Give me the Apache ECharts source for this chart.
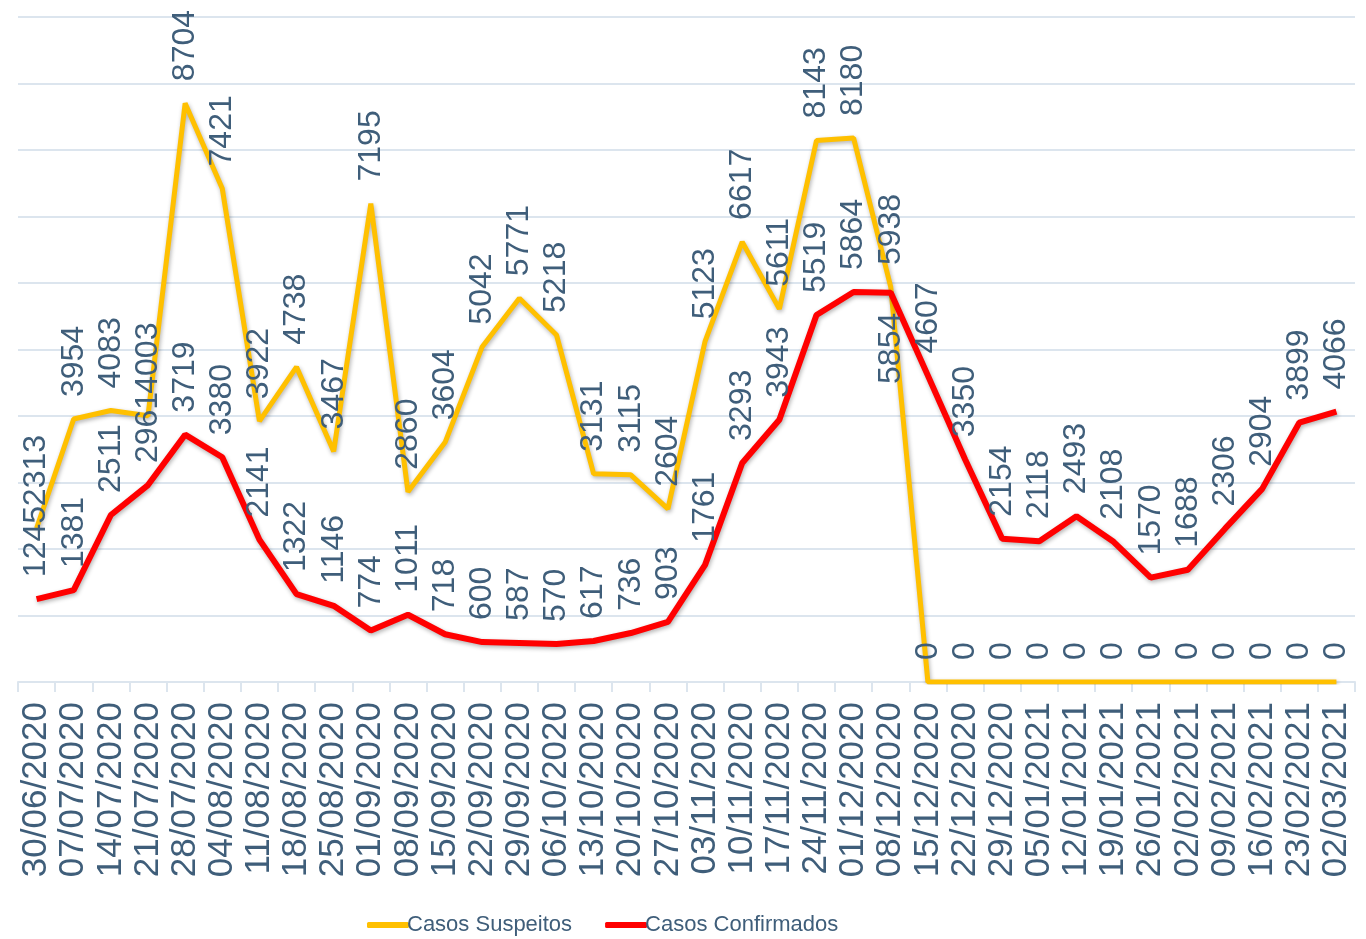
<!DOCTYPE html>
<html>
<head>
<meta charset="utf-8">
<script src="https://cdn.jsdelivr.net/npm/echarts@6/dist/echarts.min.js"></script>
<style>html,body{margin:0;padding:0;background:#fff}#c{width:1366px;height:939px}</style>
</head>
<body>
<div id="c"></div>
<script>
const categories = ['30/06/2020','07/07/2020','14/07/2020','21/07/2020','28/07/2020','04/08/2020','11/08/2020','18/08/2020','25/08/2020','01/09/2020','08/09/2020','15/09/2020','22/09/2020','29/09/2020','06/10/2020','13/10/2020','20/10/2020','27/10/2020','03/11/2020','10/11/2020','17/11/2020','24/11/2020','01/12/2020','08/12/2020','15/12/2020','22/12/2020','29/12/2020','05/01/2021','12/01/2021','19/01/2021','26/01/2021','02/02/2021','09/02/2021','16/02/2021','23/02/2021','02/03/2021'];
const suspeitos = [2313,3954,4083,4003,8704,7421,3922,4738,3467,7195,2860,3604,5042,5771,5218,3131,3115,2604,5123,6617,5611,8143,8180,5938,0,0,0,0,0,0,0,0,0,0,0,0];
const confirmados = [1245,1381,2511,2961,3719,3380,2141,1322,1146,774,1011,718,600,587,570,617,736,903,1761,3293,3943,5519,5864,5854,4607,3350,2154,2118,2493,2108,1570,1688,2306,2904,3899,4066];
const seriesNames = ['Casos Suspeitos','Casos Confirmados'];

const textColor = '#3F5E7A';
const gridColor = '#DCE5EE';
const font = '"Liberation Sans", Arial, sans-serif';

const labelTop = {show:true, position:'top', distance:22, rotate:90, align:'left', verticalAlign:'middle', color:textColor, fontSize:32, fontFamily:font};
const labelBottom = {show:true, position:'bottom', distance:20, rotate:90, align:'right', verticalAlign:'middle', color:textColor, fontSize:32, fontFamily:font};

const confData = confirmados.map((v,i)=> i===23 ? {value:v, label:labelBottom} : v);

const chart = echarts.init(document.getElementById('c'), null, {renderer:'canvas'});
chart.setOption({
  animation:false,
  backgroundColor:'#fff',
  grid:{left:18, right:11, top:17, bottom:257, containLabel:false},
  legend:{
    top:909, left:362,
    icon:'roundRect', itemWidth:42, itemHeight:6, itemGap:33,
    textStyle:{color:textColor, fontSize:22, fontFamily:font, padding:[0,0,0,-7]},
    data:seriesNames
  },
  xAxis:{
    type:'category', data:categories, boundaryGap:true,
    axisLine:{show:true, lineStyle:{color:gridColor, width:2}},
    axisTick:{show:true, length:10, lineStyle:{color:gridColor, width:2}},
    axisLabel:{rotate:90, margin:20, color:textColor, fontSize:35, fontFamily:font, interval:0}
  },
  yAxis:{
    type:'value', min:0, max:10000, interval:1000,
    axisLabel:{show:false}, axisLine:{show:false}, axisTick:{show:false},
    splitLine:{lineStyle:{color:gridColor, width:2}}
  },
  series:[
    {name:seriesNames[0], type:'line', data:suspeitos, symbol:'circle', symbolSize:0.1, showSymbol:true, z:2,
     lineStyle:{color:'#FFC000', width:5, shadowColor:'rgba(0,0,0,0.3)', shadowBlur:4, shadowOffsetX:1, shadowOffsetY:2},
     itemStyle:{color:'#FFC000'}, label:labelTop, labelLayout:{hideOverlap:false}},
    {name:seriesNames[1], type:'line', data:confData, symbol:'circle', symbolSize:0.1, showSymbol:true, z:3,
     lineStyle:{color:'#FF0000', width:6, shadowColor:'rgba(0,0,0,0.3)', shadowBlur:4, shadowOffsetX:1, shadowOffsetY:2},
     itemStyle:{color:'#FF0000'}, label:labelTop, labelLayout:{hideOverlap:false}}
  ]
});
</script>
</body>
</html>
